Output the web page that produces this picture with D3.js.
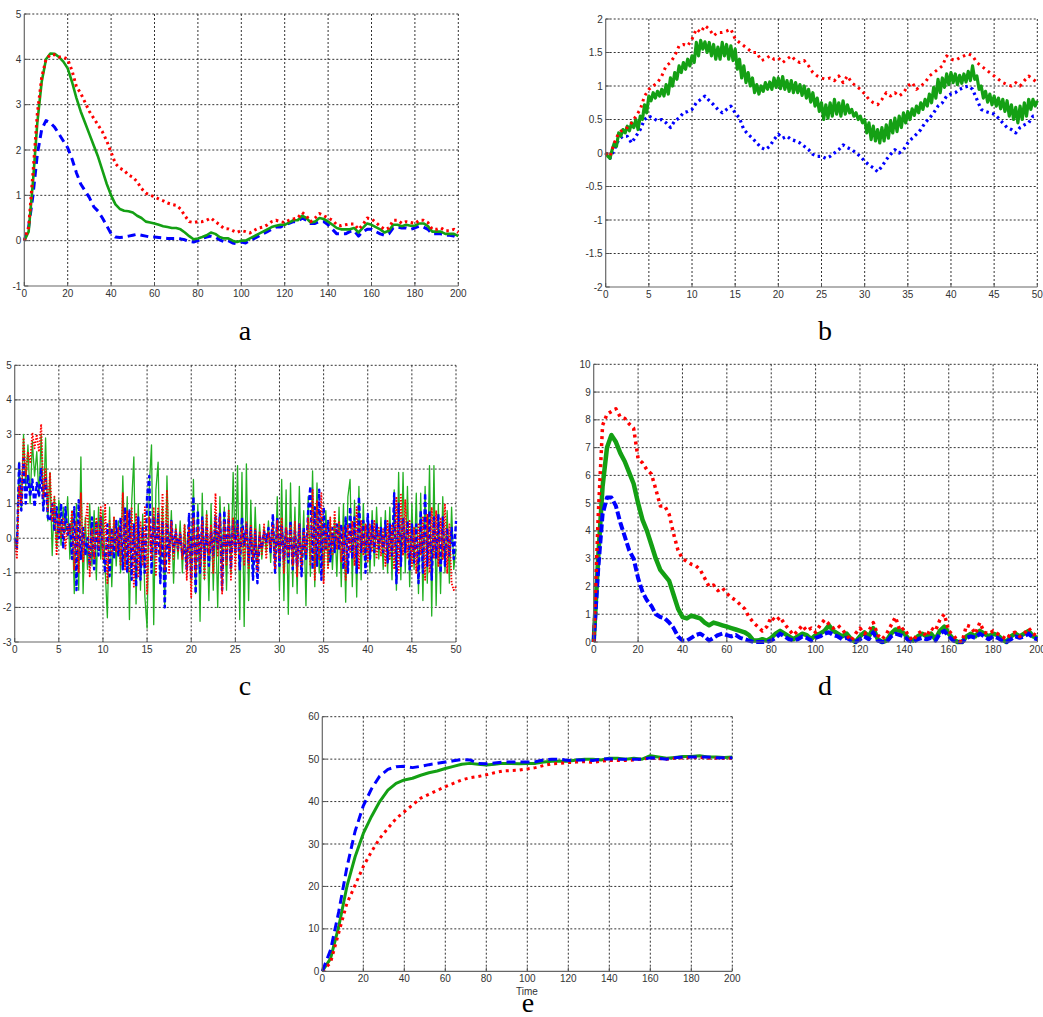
<!DOCTYPE html>
<html>
<head>
<meta charset="utf-8">
<script src="https://cdn.jsdelivr.net/npm/d3@7"></script>
<style>
  body { margin: 0; background: #fff; }
  text { font-family: "Liberation Sans", Arial, sans-serif; }
</style>
</head>
<body>
<svg id="fig" width="1043" height="1017"></svg>
<script>
// ---- panel a : t = 0..200, step 2
let aBlue = [0,0.3,1.0,1.9,2.45,2.65,2.6,2.5,2.35,2.2,
  2.05,1.8,1.5,1.25,1.1,0.95,0.75,0.65,0.5,0.33,
  0.15,0.08,0.07,0.08,0.1,0.12,0.14,0.12,0.1,0.08,
  0.08,0.07,0.06,0.05,0.05,0.05,0.04,0.02,-0.02,-0.03,
  0.0,0.05,0.08,0.1,0.08,0.02,-0.02,0.0,-0.05,-0.07,
  -0.03,-0.05,0.0,0.05,0.1,0.15,0.2,0.25,0.3,0.3,
  0.35,0.38,0.42,0.42,0.5,0.45,0.38,0.38,0.42,0.42,
  0.35,0.25,0.15,0.15,0.15,0.2,0.22,0.1,0.2,0.25,
  0.25,0.2,0.15,0.12,0.15,0.28,0.3,0.28,0.28,0.25,
  0.28,0.32,0.3,0.25,0.15,0.15,0.15,0.12,0.12,0.1,
  0.05];
let aGreen = [0,0.2,1.3,2.6,3.5,4.0,4.13,4.12,4.05,3.95,
  3.8,3.5,3.15,2.85,2.6,2.35,2.1,1.85,1.55,1.25,
  1.0,0.8,0.7,0.66,0.65,0.62,0.55,0.5,0.42,0.4,
  0.38,0.35,0.32,0.3,0.28,0.28,0.25,0.18,0.1,0.03,
  0.05,0.08,0.12,0.18,0.15,0.08,0.05,0.05,0.0,-0.03,
  0.0,0.0,0.05,0.1,0.15,0.2,0.25,0.3,0.33,0.35,
  0.35,0.4,0.45,0.45,0.55,0.5,0.4,0.42,0.5,0.48,
  0.42,0.35,0.28,0.25,0.25,0.25,0.28,0.18,0.28,0.38,
  0.35,0.3,0.25,0.18,0.22,0.35,0.35,0.32,0.35,0.33,
  0.33,0.38,0.38,0.32,0.2,0.2,0.2,0.15,0.15,0.15,
  0.1];
let aRed = [0,0.3,1.5,2.8,3.6,4.0,4.1,4.1,4.05,4.05,
  4.0,3.75,3.4,3.25,3.05,2.85,2.7,2.55,2.4,2.2,
  1.95,1.7,1.6,1.55,1.45,1.4,1.3,1.15,1.05,1.0,
  0.97,0.92,0.88,0.83,0.8,0.78,0.7,0.55,0.42,0.4,
  0.42,0.42,0.45,0.5,0.42,0.35,0.27,0.26,0.22,0.18,
  0.22,0.2,0.17,0.23,0.28,0.3,0.35,0.42,0.45,0.42,
  0.4,0.45,0.48,0.5,0.62,0.55,0.42,0.5,0.6,0.55,
  0.5,0.45,0.35,0.33,0.35,0.37,0.37,0.25,0.35,0.5,
  0.48,0.4,0.32,0.25,0.28,0.45,0.45,0.38,0.42,0.4,
  0.38,0.45,0.45,0.4,0.25,0.25,0.28,0.22,0.22,0.25,
  0.18];

// ---- panel b : t = 0..50 (green step 0.25, others step 0.5)
let bGreen = [0.00,-0.05,-0.08,0.05,0.15,0.1,0.3,0.25,
  0.35,0.3,0.4,0.33,0.45,0.38,0.5,0.35,
  0.55,0.5,0.72,0.6,0.85,0.78,0.9,0.82,
  0.92,0.85,0.95,0.85,1.02,0.88,1.12,1.0,
  1.2,1.1,1.3,1.2,1.35,1.25,1.4,1.3,
  1.45,1.35,1.65,1.45,1.68,1.55,1.66,1.5,
  1.65,1.45,1.62,1.4,1.58,1.4,1.65,1.45,
  1.62,1.4,1.6,1.38,1.55,1.25,1.4,1.12,
  1.3,1.05,1.2,1.0,1.12,0.9,1.02,0.88,
  1.0,0.92,1.05,0.95,1.06,0.95,1.12,0.98,
  1.12,0.96,1.14,0.95,1.08,0.92,1.08,0.9,
  1.05,0.9,1.02,0.86,1.0,0.82,0.95,0.76,
  0.9,0.7,0.82,0.62,0.75,0.5,0.72,0.52,
  0.75,0.55,0.8,0.58,0.75,0.55,0.78,0.58,
  0.72,0.6,0.65,0.55,0.6,0.5,0.55,0.45,
  0.5,0.3,0.45,0.2,0.4,0.18,0.35,0.15,
  0.38,0.18,0.42,0.22,0.48,0.3,0.52,0.32,
  0.55,0.38,0.6,0.45,0.62,0.5,0.66,0.56,
  0.7,0.6,0.75,0.65,0.8,0.7,0.88,0.75,
  0.98,0.82,1.1,0.9,1.12,0.98,1.18,1.02,
  1.2,1.05,1.18,1.02,1.16,1.04,1.18,1.06,
  1.22,1.08,1.3,1.1,1.15,0.95,1.0,0.82,
  0.92,0.76,0.88,0.72,0.85,0.7,0.82,0.66,
  0.8,0.62,0.78,0.55,0.72,0.5,0.68,0.45,
  0.7,0.5,0.75,0.55,0.8,0.65,0.8,0.7,
  0.78];
let bRed = [0,-0.05,0.15,0.3,0.35,0.38,0.45,0.55,0.65,0.85,
  0.95,1.0,1.05,1.15,1.3,1.35,1.45,1.6,1.62,1.6,
  1.7,1.85,1.8,1.9,1.85,1.75,1.8,1.8,1.82,1.85,
  1.7,1.65,1.6,1.55,1.5,1.5,1.38,1.4,1.45,1.4,
  1.42,1.35,1.4,1.45,1.38,1.35,1.38,1.3,1.2,1.15,
  1.12,1.1,1.12,1.08,1.15,1.05,1.15,1.05,1.0,0.95,
  0.88,0.8,0.75,0.72,0.8,0.9,0.85,0.9,0.85,0.9,
  1.0,1.05,0.95,1.0,1.05,1.15,1.2,1.25,1.3,1.45,
  1.4,1.38,1.42,1.45,1.48,1.45,1.35,1.3,1.25,1.2,
  1.15,1.1,1.05,1.02,1.0,1.05,1.0,1.08,1.15,1.1,
  1.05];
let bBlue = [0,-0.08,0.05,0.2,0.25,0.25,0.15,0.25,0.35,0.5,
  0.55,0.52,0.48,0.5,0.45,0.38,0.48,0.52,0.6,0.62,
  0.65,0.75,0.8,0.85,0.78,0.72,0.65,0.6,0.65,0.7,
  0.6,0.52,0.35,0.28,0.22,0.15,0.08,0.05,0.1,0.2,
  0.28,0.22,0.25,0.2,0.18,0.15,0.1,0.05,-0.02,-0.05,
  -0.05,-0.08,-0.05,0.0,0.05,0.12,0.08,0.05,0.0,-0.05,
  -0.12,-0.18,-0.22,-0.28,-0.2,-0.1,-0.02,0.05,0.0,0.05,
  0.15,0.22,0.28,0.35,0.45,0.52,0.6,0.7,0.75,0.85,
  0.88,0.9,0.95,0.98,1.0,0.95,0.8,0.65,0.62,0.6,
  0.58,0.52,0.45,0.38,0.35,0.3,0.38,0.42,0.45,0.55,
  0.55];

// ---- panel c : t = 0..50, step 0.25
let cGreen = [0,-0.3,2.2,0.8,3.0,1.5,2.7,1.0,
  2.8,1.8,2.5,1.2,3.0,0.8,2.9,0.5,
  1.9,-0.5,1.2,-0.3,1.1,-0.2,0.9,0.2,
  1.2,-0.6,0.8,-1.6,1.0,-1.5,2.35,-1.6,
  0.6,-0.9,1.0,-0.8,0.8,-1.2,0.9,-0.6,
  0.8,-0.9,-2.3,0.9,-1.4,0.6,-0.8,0.5,
  -1.0,1.8,-0.8,1.2,-2.35,1.0,2.35,-1.9,
  1.0,-1.5,0.7,-1.7,-2.6,1.5,2.7,-2.5,
  1.4,2.2,-1.3,0.9,-2.0,1.8,-0.7,0.8,
  -1.3,0.4,-0.6,0.5,-1.0,0.4,-0.9,0.6,
  -1.3,1.7,-1.6,1.0,-2.4,1.3,-1.2,0.8,
  -1.8,1.0,-1.5,0.7,-2.0,1.2,-0.8,0.9,
  -1.5,1.0,-1.0,1.9,-0.5,2.1,-2.35,1.9,
  -2.55,2.15,-1.8,1.1,-1.2,0.9,-0.9,0.4,
  -0.6,0.3,-0.4,0.5,-0.7,0.6,-0.9,1.2,
  -1.5,1.7,-1.8,1.4,-2.2,1.6,-1.4,0.9,
  -1.6,1.5,-1.0,0.8,-1.95,1.2,-1.1,1.95,
  -1.4,1.6,-1.0,0.6,-1.2,0.8,-0.8,0.5,
  -0.9,0.6,-1.1,0.9,-1.4,1.0,-1.85,1.2,
  1.7,-1.4,1.1,-1.7,1.5,-1.2,1.0,-0.8,
  0.7,-1.0,0.8,-0.8,0.9,-0.6,0.6,-0.9,
  0.8,-1.0,0.9,-1.2,1.4,-1.5,1.9,-1.2,
  1.9,-1.0,1.5,-1.4,1.0,-0.9,1.3,-1.6,
  1.3,-1.8,1.5,-1.3,2.1,-2.25,2.1,-1.95,
  1.0,-1.6,1.2,-1.0,0.8,-1.3,0.9,-0.9,
  -0.3];
let cBlue = [0,-0.3,2.2,0.8,2.3,1.0,1.8,1.2,
  1.7,0.9,1.6,1.2,2.0,0.8,1.8,0.6,
  0.5,1.0,0.2,0.9,0.0,1.0,-0.3,0.9,
  0.1,0.4,-0.6,0.9,-1.5,1.1,-0.6,0.3,
  -0.5,0.0,-0.8,0.6,-0.9,0.5,-0.5,0.6,
  -0.3,-1.0,0.4,-1.1,0.3,-0.6,0.5,-0.5,
  0.6,-0.9,0.9,-1.0,0.8,-1.2,0.4,-1.4,
  0.6,-1.2,0.3,-1.0,1.2,1.8,-1.0,0.6,
  -0.5,0.7,-1.3,0.5,-2.0,0.4,-0.6,0.5,
  -0.4,0.2,-0.3,0.1,-0.5,-0.2,-0.9,0.7,
  -1.2,1.2,-1.6,0.8,-1.0,0.6,-0.6,0.3,
  -0.8,0.2,-0.5,0.6,-0.3,0.7,-1.5,0.8,
  -0.6,0.6,-0.9,0.5,-0.4,0.5,-0.9,0.6,
  -0.2,0.4,-0.7,0.3,-1.2,0.2,-1.3,0.1,
  -0.3,0.2,-0.1,0.3,-0.4,0.7,-1.0,0.6,
  -0.8,0.4,-0.6,0.3,-0.7,0.5,-0.9,0.2,
  -0.8,0.4,-1.1,0.3,-0.6,0.8,1.5,-0.9,
  0.9,-0.8,1.4,-1.2,0.9,-0.3,0.5,-0.7,
  0.3,-0.4,0.4,-0.3,0.4,-0.9,0.6,-1.0,
  0.9,-0.6,0.6,-1.0,1.2,-0.4,0.5,-1.0,
  0.7,-0.6,0.5,-0.4,0.4,-0.3,0.3,-0.4,
  0.5,-0.7,0.4,-0.5,1.3,-1.3,1.0,-0.8,
  0.6,-0.4,0.5,-0.9,0.4,-0.7,0.4,-1.3,
  0.8,-1.0,1.3,-0.8,0.8,-1.2,0.6,-0.6,
  0.7,-1.0,0.6,-0.8,0.3,-0.5,0.3,-0.6,
  0.5];
let cRed = [-0.1,-0.6,1.5,1.0,2.9,1.8,2.5,2.2,
  3.05,2.6,3.0,2.5,3.3,1.2,2.0,0.8,
  1.9,0.5,1.2,-0.5,0.7,0.0,0.6,-0.3,
  0.4,0.1,0.8,-0.9,0.5,-1.0,1.3,-0.7,
  0.4,1.0,-1.1,0.3,-0.6,0.6,-0.3,0.9,
  -0.6,1.0,-1.3,0.5,-0.5,0.6,-0.4,0.3,
  -0.8,1.3,-0.9,0.8,-1.0,0.9,-1.4,0.7,
  -1.1,0.5,-0.8,0.9,-1.6,0.6,-0.6,0.9,
  -1.1,0.9,-0.5,1.3,-0.9,1.4,-1.0,0.5,
  -0.6,0.3,-0.4,0.2,-0.6,0.4,-1.2,0.3,
  -1.7,0.6,-1.0,0.3,-0.8,0.5,-1.2,0.7,
  -0.5,0.4,-1.0,1.3,-0.5,0.6,-1.6,0.5,
  -0.8,0.8,-1.2,0.6,-0.9,0.4,-0.5,0.3,
  -0.8,0.5,-0.9,0.4,-0.6,0.3,-1.0,0.2,
  -0.5,0.4,-0.6,0.2,-0.3,0.4,-0.9,0.5,
  -0.6,0.6,-1.0,0.3,-0.5,0.4,-0.8,0.5,
  -1.1,0.4,-0.8,0.2,-0.5,0.6,-0.8,1.4,
  -1.2,1.1,-0.6,1.3,-1.3,0.4,-0.9,0.6,
  -0.5,0.8,-0.3,0.5,-0.7,0.3,-1.2,0.4,
  -0.4,0.5,-0.8,0.9,-0.9,0.5,-0.5,0.4,
  -0.7,0.4,-0.4,0.5,-0.6,0.3,-0.5,0.3,
  -0.8,0.5,-0.6,0.4,-0.9,1.2,-1.0,1.3,
  -0.5,1.1,-0.6,0.5,-0.8,0.3,-1.0,0.4,
  -0.5,0.6,-1.2,0.7,-1.0,0.9,-0.6,0.8,
  -0.8,0.6,-0.6,1.0,-1.0,0.4,-1.3,-1.5,
  -1.4];

// ---- panel d : t = 0..200, step 2
let dGreen = [0,3.0,5.6,7.0,7.45,7.2,6.8,6.5,6.1,5.7,
  5.0,4.4,4.0,3.5,3.0,2.6,2.4,2.2,1.7,1.2,
  0.9,0.85,0.95,0.9,0.85,0.7,0.6,0.7,0.65,0.6,
  0.55,0.5,0.45,0.4,0.35,0.25,0.05,0.05,0.1,0.05,
  0.15,0.3,0.4,0.3,0.2,0.1,0.2,0.3,0.25,0.1,
  0.25,0.3,0.4,0.6,0.4,0.3,0.2,0.3,0.1,0.0,
  0.2,0.35,0.2,0.5,0.1,0.0,0.05,0.3,0.45,0.4,
  0.3,0.1,0.05,0.2,0.3,0.2,0.3,0.1,0.4,0.55,
  0.3,0.1,0.0,0.0,0.2,0.3,0.2,0.4,0.3,0.2,
  0.3,0.25,0.1,0.0,0.2,0.3,0.2,0.3,0.4,0.2,
  0.15];
let dBlue = [0,2.6,4.6,5.2,5.2,4.9,4.3,3.8,3.3,3.0,
  2.3,1.8,1.5,1.3,1.0,0.9,0.85,0.7,0.5,0.2,
  0.05,0.05,0.15,0.25,0.3,0.2,0.05,0.15,0.25,0.3,
  0.25,0.2,0.25,0.15,0.1,0.05,0.0,0.0,0.0,0.0,
  0.05,0.15,0.3,0.2,0.1,0.05,0.1,0.2,0.15,0.05,
  0.15,0.2,0.3,0.35,0.25,0.2,0.1,0.15,0.05,0.0,
  0.1,0.2,0.1,0.35,0.05,0.0,0.0,0.2,0.3,0.25,
  0.2,0.05,0.0,0.1,0.15,0.1,0.15,0.05,0.3,0.4,
  0.2,0.05,0.0,0.0,0.15,0.2,0.15,0.3,0.2,0.1,
  0.2,0.15,0.05,0.0,0.1,0.2,0.15,0.2,0.3,0.15,
  0.1];
let dRed = [0,4.5,7.8,8.2,8.3,8.4,8.1,8.05,7.85,7.7,
  6.6,6.45,6.2,6.05,5.5,4.9,4.9,4.6,3.9,3.3,
  3.0,2.9,2.8,2.75,2.6,2.3,2.0,2.05,1.85,1.95,
  1.75,1.6,1.5,1.35,1.2,0.9,0.7,0.55,0.4,0.55,
  0.9,0.75,0.9,0.65,0.45,0.25,0.4,0.6,0.4,0.5,
  0.35,0.6,0.8,0.65,0.5,0.6,0.45,0.25,0.05,0.3,
  0.5,0.3,0.4,0.7,0.25,0.1,0.3,0.6,0.9,0.4,
  0.5,0.2,0.05,0.3,0.4,0.2,0.5,0.4,0.8,1.0,
  0.4,0.25,0.05,0.0,0.6,0.55,0.3,0.7,0.35,0.3,
  0.4,0.3,0.2,0.1,0.3,0.35,0.2,0.3,0.5,0.3,
  0.2];

// ---- panel e : t = 0..200, step 4
let eBlue = [0,5,14,24.5,33,39,43,46,47.6,48.2,
  48.3,48.0,48.3,48.7,49.0,49.3,49.6,49.9,49.8,49.0,
  48.9,49.1,49.3,49.3,49.3,49.3,49.4,49.8,50.0,50.0,
  49.7,49.8,49.8,49.7,50.0,50.1,50.0,50.0,50.0,50.0,
  50.3,50.2,50.0,50.3,50.5,50.5,50.5,50.5,50.3,50.3,
  50.3];
let eGreen = [0,3,10.5,20,27,32.5,36.5,40,42.7,44.3,
  45.1,45.5,46.2,46.8,47.2,47.8,48.3,48.8,49.0,48.8,
  48.6,48.8,49.0,49.0,48.9,49.0,49.0,49.3,49.5,49.5,
  49.5,49.8,50.0,50.0,49.8,50.2,50.2,50.0,50.2,50.0,
  50.8,50.5,50.2,50.4,50.6,50.6,50.8,50.5,50.5,50.4,
  50.5];
let eRed = [0,2,9,16,20.3,24.7,28.2,31.3,33.7,36,
  37.6,39.2,40.8,41.7,42.6,43.5,44.3,45.1,45.6,45.9,
  46.3,46.8,47.2,47.3,47.4,47.7,48.0,48.5,48.9,49.0,
  49.2,49.3,49.4,49.2,49.5,49.7,49.7,49.7,49.8,50.0,
  50.2,50.1,50.0,50.2,50.3,50.3,50.4,50.2,50.2,50.2,
  50.2];

// tick values
let ticks200 = d3.range(0, 201, 20);
let ticks50 = d3.range(0, 51, 5);
let aYTicks = d3.range(-1, 6, 1);
let bYTicks = [-2, -1.5, -1, -0.5, 0, 0.5, 1, 1.5, 2];
let cYTicks = d3.range(-3, 6, 1);
let dYTicks = d3.range(0, 11, 1);
let eYTicks = d3.range(0, 61, 10);

let svg = d3.select("#fig");
let RED = "#ff0000", GREEN = "#14a014", BLUE = "#0000ff";

function panel(o) {
  let g = svg.append("g");
  let x = d3.scaleLinear().domain([o.xt[0], o.xt[o.xt.length - 1]]).range([o.l, o.r]);
  let y = d3.scaleLinear().domain([o.yt[0], o.yt[o.yt.length - 1]]).range([o.b, o.t]);

  // dotted grid
  g.selectAll("line.gx")
    .data(o.xt.slice(1))
    .enter()
    .append("line")
    .attr("x1", d => x(d)).attr("x2", d => x(d))
    .attr("y1", o.t).attr("y2", o.b)
    .attr("stroke", "#333").attr("stroke-width", 1)
    .attr("stroke-dasharray", "2,2");
  g.selectAll("line.gy")
    .data(o.yt.slice(1))
    .enter()
    .append("line")
    .attr("x1", o.l).attr("x2", o.r)
    .attr("y1", d => y(d)).attr("y2", d => y(d))
    .attr("stroke", "#333").attr("stroke-width", 1)
    .attr("stroke-dasharray", "2,2");

  // series
  o.series.forEach(s => {
    let n = s.data.length;
    let x0 = x.domain()[0], x1 = x.domain()[1];
    let line = d3.line()
      .x((d, i) => x(x0 + (i * (x1 - x0)) / (n - 1)))
      .y(d => y(d));
    g.append("path")
      .attr("d", line(s.data))
      .attr("fill", "none")
      .attr("stroke", s.color)
      .attr("stroke-width", s.width)
      .attr("stroke-dasharray", s.dash || null)
      .attr("stroke-linejoin", "round");
  });

  // axes (left + bottom only)
  g.append("line")
    .attr("x1", o.l).attr("x2", o.l).attr("y1", o.t).attr("y2", o.b)
    .attr("stroke", "#666").attr("stroke-width", 1.2);
  g.append("line")
    .attr("x1", o.l).attr("x2", o.r).attr("y1", o.b).attr("y2", o.b)
    .attr("stroke", "#666").attr("stroke-width", 1.2);

  g.selectAll("line.tx")
    .data(o.xt)
    .enter()
    .append("line")
    .attr("x1", d => x(d)).attr("x2", d => x(d))
    .attr("y1", o.b).attr("y2", o.b - 4)
    .attr("stroke", "#555");
  g.selectAll("line.ty")
    .data(o.yt)
    .enter()
    .append("line")
    .attr("x1", o.l).attr("x2", o.l + 4)
    .attr("y1", d => y(d)).attr("y2", d => y(d))
    .attr("stroke", "#555");

  g.selectAll("text.xl")
    .data(o.xt)
    .enter()
    .append("text")
    .text(d => String(d))
    .attr("x", d => x(d))
    .attr("y", o.b + 11)
    .attr("text-anchor", "middle")
    .style("font-size", "10px")
    .attr("fill", "#333");
  g.selectAll("text.yl")
    .data(o.yt)
    .enter()
    .append("text")
    .text(d => String(d))
    .attr("x", o.l - 3)
    .attr("y", d => y(d) + 3.5)
    .attr("text-anchor", "end")
    .style("font-size", "10px")
    .attr("fill", "#333");

  svg.append("text")
    .text(o.name)
    .attr("x", o.lx)
    .attr("y", o.ly)
    .attr("text-anchor", "middle")
    .style("font-family", "'Liberation Serif', 'Times New Roman', serif")
    .style("font-size", "28px")
    .attr("fill", "#000");
}

panel({
  name: "a", lx: 245, ly: 340,
  l: 24.3, r: 458.3, t: 14, b: 286,
  xt: ticks200, yt: aYTicks,
  series: [
    { data: aBlue, color: BLUE, width: 3, dash: "8,5" },
    { data: aGreen, color: GREEN, width: 2.6 },
    { data: aRed, color: RED, width: 3, dash: "2.5,3.5" }
  ]
});

panel({
  name: "b", lx: 825, ly: 340,
  l: 605.7, r: 1037.3, t: 19, b: 287,
  xt: ticks50, yt: bYTicks,
  series: [
    { data: bBlue, color: BLUE, width: 3.2, dash: "2.5,3.5" },
    { data: bGreen, color: GREEN, width: 3.2 },
    { data: bRed, color: RED, width: 3, dash: "2.5,4" }
  ]
});

panel({
  name: "c", lx: 245, ly: 695,
  l: 14.7, r: 456, t: 365.3, b: 642,
  xt: ticks50, yt: cYTicks,
  series: [
    { data: cGreen, color: "#22b022", width: 1.3 },
    { data: cBlue, color: BLUE, width: 2.4, dash: "5,2.5" },
    { data: cRed, color: RED, width: 1.8, dash: "1.5,1.5" }
  ]
});

panel({
  name: "d", lx: 825, ly: 695,
  l: 593.7, r: 1037.5, t: 364.3, b: 642,
  xt: ticks200, yt: dYTicks,
  series: [
    { data: dGreen, color: GREEN, width: 4.5 },
    { data: dBlue, color: BLUE, width: 4, dash: "8,3" },
    { data: dRed, color: RED, width: 3.5, dash: "3,4" }
  ]
});

panel({
  name: "e", lx: 528, ly: 1012,
  l: 322.3, r: 732.3, t: 716.7, b: 971.3,
  xt: ticks200, yt: eYTicks,
  series: [
    { data: eGreen, color: GREEN, width: 3 },
    { data: eRed, color: RED, width: 3, dash: "3,4" },
    { data: eBlue, color: BLUE, width: 3, dash: "9,5" }
  ]
});

svg.append("text")
  .text("Time")
  .attr("x", 527)
  .attr("y", 995)
  .attr("text-anchor", "middle")
  .style("font-size", "10px")
  .attr("fill", "#333");
</script>
</body>
</html>
